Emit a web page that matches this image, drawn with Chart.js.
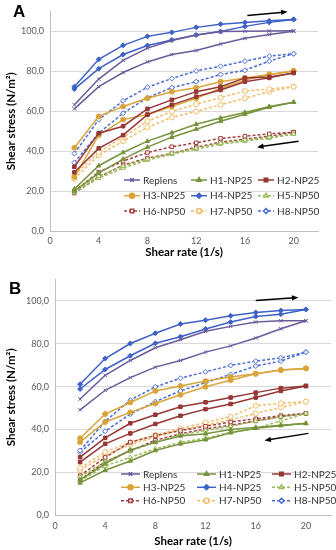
<!DOCTYPE html>
<html>
<head>
<meta charset="utf-8">
<script src="https://cdn.jsdelivr.net/npm/chart.js@4.4.0/dist/chart.umd.min.js"></script>
<style>
body { margin: 0; background: #fff; }
#wrap { position: relative; width: 336px; height: 550px; }
.panel { position: absolute; left: 0; width: 336px; }
.tag { position: absolute; font: bold 17px "Liberation Sans", Arial, sans-serif; color: #000; }
</style>
</head>
<body>
<div id="wrap">
  <div class="panel" style="top:0;height:268px"><canvas id="chartA" width="336" height="268"></canvas></div>
  <div class="panel" style="top:268px;height:282px"><canvas id="chartB" width="336" height="282"></canvas></div>
  <div class="tag" style="left:13px;top:2px">A</div>
  <div class="tag" style="left:9px;top:279px">B</div>
</div>
<script>
// shear rate (1/s) and tick labels
const shearRate = [2, 4, 6, 8, 10, 12, 14, 16, 18, 20];
const xTicks = [0, 4, 8, 12, 16, 20];
const yTicks = [0, 20, 40, 60, 80, 100];

const seriesNames = ['Replens', 'H1-NP25', 'H2-NP25', 'H3-NP25', 'H4-NP25', 'H5-NP50', 'H6-NP50', 'H7-NP50', 'H8-NP50'];

// panel A : [ascending, descending] shear stress (N/m2)
const aReplens = [[61.2, 72.3, 79.4, 84.7, 88.4, 90.4, 93.7, 96.5, 98.4, 100.0], [63.2, 76.1, 85.5, 91.6, 95.4, 98.2, 99.9, 100.0, 100.2, 100.3]];
const aH1 = [[21, 32.7, 39.3, 45, 49.2, 53.5, 56.6, 59.4, 62.4, 64.5], [20, 29, 36, 42, 47, 51, 55, 58.5, 62, 64.5]];
const aH2 = [[32.2, 49, 52.5, 61.2, 65.7, 69.8, 72.3, 76.7, 77.2, 79.2], [29.4, 41.4, 48, 58.3, 63.2, 67.3, 70.6, 74.8, 76.7, 79.2]];
const aH3 = [[41.7, 57.4, 62.4, 66.5, 69.8, 71.8, 74.8, 76.7, 78.4, 80.2], [27, 48, 55.8, 58.3, 62.4, 66.5, 71.4, 75.6, 78.4, 80.2]];
const aH4 = [[72.3, 86, 93, 97.5, 99.5, 102, 103.6, 104.5, 105.3, 106], [71.1, 81.3, 88.4, 92.9, 95.7, 98.2, 99.9, 102.5, 104.5, 106]];
const aH5 = [[20, 27.5, 32.5, 36, 39, 41.5, 44, 45.5, 47, 48.5], [19.5, 26.5, 31.5, 35.5, 38.5, 41, 43.5, 45, 46.5, 48.5]];
const aH6 = [[20, 29.5, 35, 39.3, 42.2, 44.2, 46.4, 47.5, 48.7, 49.5], [19, 27, 33, 36.5, 38.8, 42, 44.5, 46, 47.5, 49.5]];
const aH7 = [[28, 39.6, 47, 55, 59.9, 63.5, 66.8, 70.1, 71.1, 72.3], [26, 38, 45, 52, 56.9, 59.9, 63.2, 66.5, 69.8, 72.3]];
const aH8 = [[38.8, 55.8, 65.2, 72, 76.4, 80.2, 82.5, 85.1, 87.6, 88.8], [34.3, 49, 59, 66.8, 71.8, 74.8, 78.4, 80.5, 85.1, 88.8]];

// panel B
const bReplens = [[54.2, 65.3, 72.2, 78.1, 81.9, 85.8, 88.1, 90.1, 90.7, 90.7], [49.2, 58.3, 64.2, 69.1, 72.2, 76.1, 79, 82.7, 87, 90.7]];
const bH1 = [[16.5, 24, 30.5, 34, 37, 38, 40, 41, 42, 42.8], [15.1, 21, 25.3, 30.2, 33.3, 35.2, 38.5, 40.6, 41.8, 42.9]];
const bH2 = [[27.1, 36.1, 42.9, 46.9, 50.6, 52.7, 54.9, 57.2, 59.3, 60.3], [24.8, 33.3, 38.2, 42.6, 46.4, 49.5, 51.9, 54.9, 58, 60.3]];
const bH3 = [[35.9, 47.2, 52.6, 58, 60.3, 62.6, 64.5, 66, 67.7, 68.5], [34.1, 43.5, 48, 52.1, 56.2, 59.9, 63, 66, 67.7, 68.5]];
const bH4 = [[61.1, 73.1, 80.1, 84.9, 89.2, 91, 93, 94.6, 95.5, 96], [58.9, 68, 74.4, 80.2, 83.3, 86.9, 90.1, 92.7, 93.8, 96]];
const bH5 = [[18, 25, 30, 34, 37.5, 39.5, 41.5, 44, 46, 47.5], [16, 23, 27, 31, 34, 36, 38.7, 40.5, 44, 47.5]];
const bH6 = [[18.5, 27, 34.1, 37.2, 39.5, 41.5, 43.5, 45, 46.5, 47.5], [16.5, 25, 30, 35, 38, 40.3, 42, 44, 46, 47.5]];
const bH7 = [[22, 29.5, 34, 37.5, 40.5, 43.3, 46, 51.1, 52.2, 53], [21, 28, 33, 36.5, 40, 42, 44.5, 47.5, 50.3, 53]];
const bH8 = [[30.2, 43.8, 53.7, 59.9, 63.9, 66.9, 69.9, 71.9, 73.4, 76.1], [29.4, 39.2, 47.2, 53, 58, 61.9, 65.7, 69.6, 71.9, 76.1]];

// styles per series
const colors = ['#6a5a9c', '#77933c', '#953735', '#d9a53b', '#3e62c8', '#9bbb59', '#a0403e', '#f2bd6b', '#4a6cd4'];
const dashed = [false, false, false, false, false, true, true, true, true];
const markers = ['crossRot', 'triangle', 'rect', 'circle', 'rectRot', 'triangle', 'rect', 'circle', 'rectRot'];

const FONT = 'Lato, "Open Sans", sans-serif';

function buildSets(panel) {
  const sets = [];
  panel.forEach((pair, i) => {
    pair.forEach((vals, k) => {
      sets.push({
        label: k === 0 ? seriesNames[i] : '_' + seriesNames[i],
        data: vals.map((v, j) => ({ x: shearRate[j], y: v })),
        borderColor: colors[i],
        backgroundColor: dashed[i] ? '#fff' : colors[i],
        borderWidth: 1.5,
        borderDash: dashed[i] ? [3, 2] : [],
        pointStyle: markers[i],
        pointRadius: 2.5,
        pointBorderWidth: 1,
        tension: 0
      });
    });
  });
  return sets;
}

// legend drawn inside the plot area
const inLegend = {
  id: 'inLegend',
  afterDraw(chart, args, opts) {
    const ctx = chart.ctx;
    const sets = chart.data.datasets.filter(d => !d.label.startsWith('_'));
    ctx.save();
    sets.forEach((d, i) => {
      const x = opts.cols[i % 3];
      const y = opts.rows[Math.floor(i / 3)];
      ctx.strokeStyle = d.borderColor;
      ctx.lineWidth = 1.5;
      ctx.setLineDash(d.borderDash);
      ctx.beginPath();
      ctx.moveTo(x, y);
      ctx.lineTo(x + opts.len, y);
      ctx.stroke();
      ctx.setLineDash([]);
      ctx.fillStyle = d.backgroundColor;
      Chart.helpers.drawPoint(ctx, { pointStyle: d.pointStyle, radius: 2.5, borderWidth: 1, rotation: 0 }, x + opts.len / 2, y);
      ctx.fillStyle = '#333';
      ctx.font = '10px ' + FONT;
      ctx.textBaseline = 'middle';
      ctx.fillText(d.label, x + opts.len + 3, y + 0.5);
    });
    ctx.restore();
  }
};

// hysteresis arrows
const arrows = {
  id: 'arrows',
  afterDraw(chart, args, opts) {
    const ctx = chart.ctx, sx = chart.scales.x, sy = chart.scales.y;
    ctx.save();
    ctx.strokeStyle = '#000';
    ctx.fillStyle = '#000';
    ctx.lineWidth = 1.5;
    opts.list.forEach(a => {
      const x1 = sx.getPixelForValue(a[0]), y1 = sy.getPixelForValue(a[1]);
      const x2 = sx.getPixelForValue(a[2]), y2 = sy.getPixelForValue(a[3]);
      const ang = Math.atan2(y2 - y1, x2 - x1);
      ctx.beginPath();
      ctx.moveTo(x1, y1);
      ctx.lineTo(x2 - 4 * Math.cos(ang), y2 - 4 * Math.sin(ang));
      ctx.stroke();
      ctx.beginPath();
      ctx.moveTo(x2, y2);
      ctx.lineTo(x2 - 7 * Math.cos(ang - 0.4), y2 - 7 * Math.sin(ang - 0.4));
      ctx.lineTo(x2 - 7 * Math.cos(ang + 0.4), y2 - 7 * Math.sin(ang + 0.4));
      ctx.closePath();
      ctx.fill();
    });
    ctx.restore();
  }
};

function makeChart(id, panel, lay) {
  return new Chart(document.getElementById(id), {
    type: 'line',
    data: { datasets: buildSets(panel) },
    plugins: [inLegend, arrows],
    options: {
      responsive: false,
      animation: false,
      devicePixelRatio: 1,
      layout: { padding: { top: lay.top, right: lay.right, left: 0, bottom: 0 } },
      plugins: {
        legend: { display: false },
        tooltip: { enabled: false },
        inLegend: lay.legend,
        arrows: { list: lay.arrows }
      },
      scales: {
        x: {
          type: 'linear',
          min: 0,
          max: 22,
          afterBuildTicks: ax => { ax.ticks = xTicks.map(v => ({ value: v })); },
          afterFit: ax => { ax.height = lay.xh; },
          grid: { display: false, drawTicks: false },
          border: { display: true, color: '#bfbfbf' },
          ticks: { color: '#595959', font: { size: 9, family: FONT }, padding: 5, maxRotation: 0 },
          title: { display: true, text: 'Shear rate (1/s)', color: '#000', font: { size: 11.5, weight: 'bold', family: FONT }, padding: { top: 2, bottom: lay.tb } }
        },
        y: {
          min: 0,
          max: 110,
          afterBuildTicks: ax => { ax.ticks = yTicks.map(v => ({ value: v })); },
          afterFit: ax => { ax.width = lay.yw; },
          grid: { color: '#d9d9d9', drawTicks: false },
          border: { display: true, color: '#bfbfbf' },
          ticks: { color: '#595959', font: { size: 9, family: FONT }, padding: 6, callback: v => v.toFixed(1).replace('.', ',') },
          title: { display: true, text: 'Shear stress (N/m²)', color: '#000', font: { size: 11.5, weight: 'bold', family: FONT }, padding: { top: 4, bottom: 0 } }
        }
      }
    }
  });
}

makeChart('chartA', [aReplens, aH1, aH2, aH3, aH4, aH5, aH6, aH7, aH8], {
  top: 9, right: 18, xh: 37, yw: 50, tb: 9,
  legend: { cols: [124, 191, 258], rows: [180, 195.7, 211], len: 16 },
  arrows: [[16.2, 108, 19.5, 109.8], [20.4, 45, 17, 42]]
});

makeChart('chartB', [bReplens, bH1, bH2, bH3, bH4, bH5, bH6, bH7, bH8], {
  top: 9.5, right: 5, xh: 34.7, yw: 55, tb: 2,
  legend: { cols: [121, 197, 272], rows: [206, 219.3, 232.7], len: 19 },
  arrows: [[16, 100.2, 19.4, 101.6], [20.2, 38.2, 16.7, 34.9]]
});
</script>
</body>
</html>
